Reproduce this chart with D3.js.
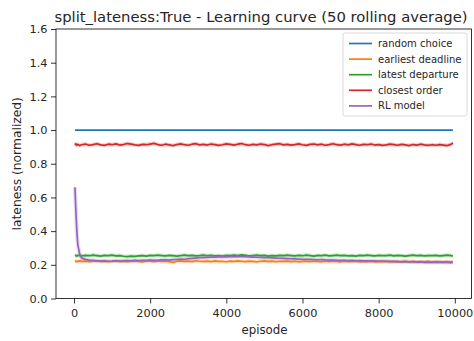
<!DOCTYPE html>
<html>
<head>
<meta charset="utf-8">
<script src="https://cdn.jsdelivr.net/npm/d3@7"></script>
<style>
  html, body { margin: 0; padding: 0; background: #fff; }
  svg { display: block; font-family: "DejaVu Sans", sans-serif; }
</style>
</head>
<body>
<svg id="chart" width="474" height="341"></svg>
<script>
// Episode index of each rolling-average sample
const episodes = [25, 50, 75, 100, 150].concat(d3.range(200, 10000, 100), [9950]);

const seriesNames = ["random choice", "earliest deadline", "latest departure", "closest order", "RL model"];
const seriesColors = ["#1f77b4", "#ff7f0e", "#2ca02c", "#d62728", "#9467bd"];

const randomChoice = [
  1,1,1,1,1,1,1,1,1,1, 1,1,1,1,1,1,1,1,1,1, 1,1,1,1,1,1,1,1,1,1,
  1,1,1,1,1,1,1,1,1,1, 1,1,1,1,1,1,1,1,1,1, 1,1,1,1,1,1,1,1,1,1,
  1,1,1,1,1,1,1,1,1,1, 1,1,1,1,1,1,1,1,1,1, 1,1,1,1,1,1,1,1,1,1,
  1,1,1,1,1,1,1,1,1,1, 1,1,1,1
];

const earliestDeadline = [
  0.220,0.222,0.219,0.221,0.223,0.220,0.222,0.218,0.221,0.223,
  0.220,0.222,0.219,0.221,0.224,0.220,0.222,0.219,0.221,0.223,
  0.220,0.218,0.222,0.221,0.219,0.223,0.220,0.222,0.218,0.214,
  0.221,0.223,0.220,0.222,0.219,0.224,0.221,0.220,0.222,0.219,
  0.223,0.220,0.221,0.218,0.222,0.220,0.223,0.221,0.219,0.222,
  0.220,0.218,0.221,0.223,0.220,0.222,0.219,0.221,0.220,0.222,
  0.219,0.221,0.218,0.220,0.222,0.219,0.221,0.220,0.218,0.221,
  0.219,0.222,0.220,0.218,0.221,0.219,0.220,0.222,0.218,0.220,
  0.219,0.221,0.218,0.220,0.219,0.221,0.217,0.220,0.218,0.219,
  0.221,0.218,0.220,0.217,0.219,0.218,0.220,0.217,0.219,0.218,
  0.217,0.219,0.218,0.217
];

const latestDeparture = [
  0.254,0.256,0.252,0.255,0.257,0.253,0.256,0.254,0.258,0.255,
  0.252,0.256,0.254,0.257,0.253,0.255,0.251,0.249,0.252,0.250,
  0.253,0.255,0.252,0.256,0.254,0.257,0.255,0.253,0.256,0.254,
  0.252,0.255,0.257,0.254,0.256,0.253,0.255,0.258,0.254,0.256,
  0.253,0.255,0.252,0.256,0.254,0.257,0.255,0.259,0.256,0.253,
  0.255,0.257,0.254,0.256,0.252,0.255,0.253,0.256,0.254,0.257,
  0.255,0.253,0.256,0.254,0.258,0.255,0.252,0.256,0.254,0.257,
  0.253,0.255,0.257,0.254,0.256,0.253,0.255,0.252,0.256,0.254,
  0.257,0.255,0.253,0.256,0.254,0.255,0.257,0.253,0.256,0.254,
  0.252,0.255,0.257,0.254,0.256,0.253,0.255,0.254,0.256,0.253,
  0.255,0.257,0.254,0.253
];

const closestOrder = [
  0.912,0.918,0.910,0.915,0.908,0.913,0.917,0.910,0.914,0.919,
  0.912,0.909,0.916,0.913,0.918,0.911,0.914,0.920,0.916,0.912,
  0.909,0.915,0.913,0.917,0.921,0.914,0.910,0.916,0.912,0.908,
  0.914,0.918,0.913,0.910,0.916,0.919,0.912,0.915,0.911,0.917,
  0.914,0.909,0.913,0.918,0.915,0.911,0.916,0.920,0.913,0.910,
  0.915,0.912,0.917,0.914,0.908,0.913,0.916,0.919,0.912,0.915,
  0.911,0.914,0.918,0.913,0.909,0.915,0.917,0.912,0.916,0.910,
  0.914,0.919,0.913,0.911,0.916,0.912,0.918,0.914,0.910,0.915,
  0.913,0.917,0.911,0.914,0.909,0.912,0.916,0.913,0.910,0.915,
  0.912,0.908,0.914,0.911,0.916,0.912,0.909,0.913,0.910,0.914,
  0.911,0.908,0.915,0.924
];

const rlModel = [
  0.660,0.520,0.400,0.320,0.262,0.240,0.232,0.228,0.226,0.224,
  0.222,0.223,0.221,0.222,0.224,0.222,0.223,0.225,0.224,0.226,
  0.225,0.227,0.226,0.228,0.227,0.226,0.229,0.230,0.228,0.231,
  0.232,0.234,0.233,0.236,0.238,0.240,0.242,0.243,0.244,0.245,
  0.246,0.247,0.248,0.247,0.249,0.248,0.250,0.249,0.248,0.247,
  0.246,0.245,0.244,0.243,0.242,0.241,0.240,0.239,0.238,0.237,
  0.236,0.235,0.234,0.233,0.233,0.232,0.231,0.230,0.231,0.229,
  0.228,0.228,0.227,0.226,0.227,0.225,0.226,0.224,0.225,0.223,
  0.224,0.222,0.223,0.221,0.222,0.220,0.221,0.219,0.220,0.218,
  0.219,0.217,0.218,0.216,0.217,0.215,0.216,0.214,0.215,0.216,
  0.214,0.215,0.213,0.214
];

const seriesValues = [randomChoice, earliestDeadline, latestDeparture, closestOrder, rlModel];

const xTicks = [0, 2000, 4000, 6000, 8000, 10000];
const yTicks = [0.0, 0.2, 0.4, 0.6, 0.8, 1.0, 1.2, 1.4, 1.6];

const titleText = "split_lateness:True - Learning curve (50 rolling average)";
const xLabel = "episode";
const yLabel = "lateness (normalized)";

// Plot area
const plotLeft = 56, plotRight = 471.5, plotTop = 29, plotBottom = 298.5;

const x = d3.scaleLinear().domain([-446, 10438]).range([plotLeft + 1, plotRight]);
const y = d3.scaleLinear().domain([0, 1.6]).range([plotBottom, plotTop]);

const svg = d3.select("#chart");

const line = d3.line()
  .x((d, i) => x(episodes[i]))
  .y(d => y(d));

const plot = svg.append("g");
seriesValues.forEach((vals, k) => {
  if (k > 0) {
    plot.append("path")
      .attr("d", line(vals))
      .attr("fill", "none")
      .attr("stroke", seriesColors[k])
      .attr("stroke-opacity", 0.22)
      .attr("stroke-width", 4)
      .attr("stroke-linejoin", "round");
  }
  plot.append("path")
    .attr("d", line(vals))
    .attr("fill", "none")
    .attr("stroke", seriesColors[k])
    .attr("stroke-width", 1.7)
    .attr("stroke-linejoin", "round");
});

// Axes
const xAxis = d3.axisBottom(x).tickValues(xTicks).tickFormat(d3.format("d")).tickSizeOuter(0).tickSize(5).tickPadding(5);
const yAxis = d3.axisLeft(y).tickValues(yTicks).tickFormat(d3.format(".1f")).tickSizeOuter(0).tickSize(5).tickPadding(3.5);

const gx = svg.append("g").attr("transform", `translate(0,${plotBottom})`).call(xAxis);
const gy = svg.append("g").attr("transform", `translate(${plotLeft},0)`).call(yAxis);
[gx, gy].forEach(g => {
  g.select(".domain").remove();
  g.selectAll(".tick line").attr("stroke", "#000").attr("stroke-width", 0.8);
  g.selectAll(".tick text").attr("font-size", 11.3).attr("fill", "#262626").attr("font-family", "DejaVu Sans");
});

// Frame
svg.append("rect")
  .attr("x", plotLeft).attr("y", plotTop)
  .attr("width", plotRight - plotLeft).attr("height", plotBottom - plotTop)
  .attr("fill", "none").attr("stroke", "#000").attr("stroke-width", 0.8);

// Title and labels
svg.append("text")
  .attr("x", 261).attr("y", 21.7)
  .attr("text-anchor", "middle").attr("font-size", 14.8).attr("fill", "#262626")
  .text(titleText);

svg.append("text")
  .attr("x", 264.5).attr("y", 334)
  .attr("text-anchor", "middle").attr("font-size", 11.8).attr("fill", "#262626")
  .text(xLabel);

svg.append("text")
  .attr("transform", `translate(20.5,${(plotTop + plotBottom) / 2}) rotate(-90)`)
  .attr("text-anchor", "middle").attr("font-size", 12.3).attr("fill", "#262626")
  .text(yLabel);

// Legend
const legend = svg.append("g").attr("transform", "translate(343,33)");
legend.append("rect")
  .attr("x", 0).attr("y", 0).attr("width", 124).attr("height", 83)
  .attr("rx", 2).attr("fill", "#fff").attr("fill-opacity", 0.8)
  .attr("stroke", "#d0d0d0").attr("stroke-width", 0.8);
seriesNames.forEach((name, k) => {
  const ly = 10.5 + k * 15.6;
  legend.append("line")
    .attr("x1", 6).attr("x2", 29).attr("y1", ly).attr("y2", ly)
    .attr("stroke", seriesColors[k]).attr("stroke-width", 1.7);
  legend.append("text")
    .attr("x", 35).attr("y", ly + 3.4)
    .attr("font-size", 10).attr("fill", "#262626")
    .text(name);
});
</script>
</body>
</html>
